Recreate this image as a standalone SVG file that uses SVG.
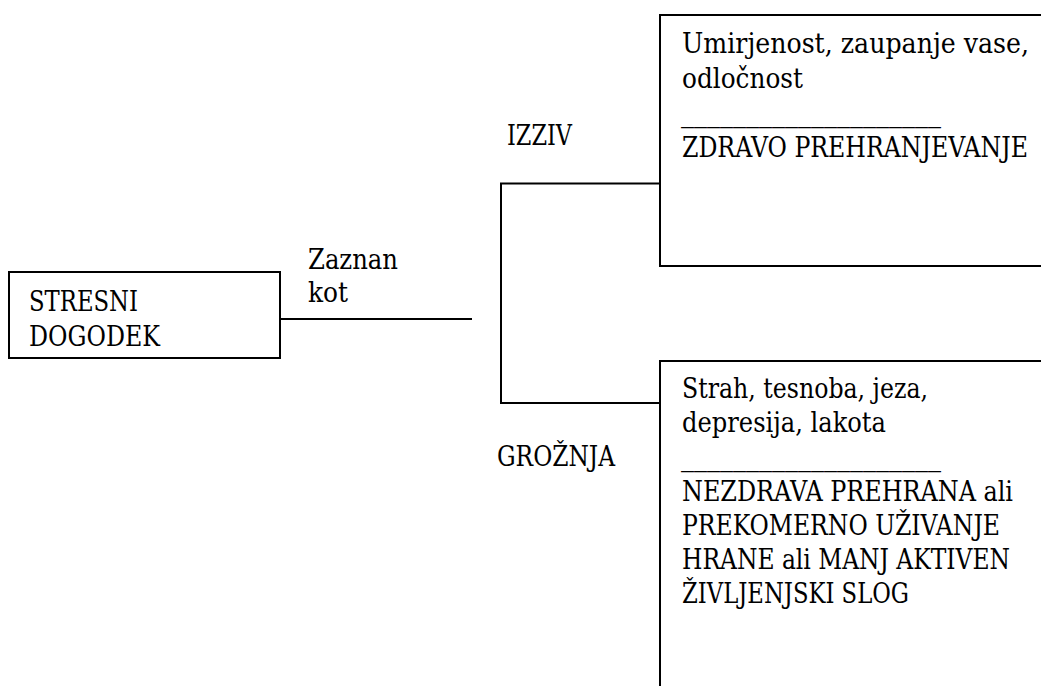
<svg xmlns="http://www.w3.org/2000/svg" width="1041" height="686" viewBox="0 0 1041 686">
  <style>
    .t { font-family: "DejaVu Serif Condensed", "DejaVu Serif", "Liberation Serif", serif; font-stretch: condensed; font-size: 27px; fill: #000; }
    .ln { fill: none; stroke: #000; stroke-width: 2; }
  </style>
  <rect width="1041" height="686" fill="#fff"/>

  <g id="node-stresni-dogodek">
    <rect class="ln" x="9" y="272" width="271" height="86"/>
    <text class="t" x="29" y="311" textLength="109" lengthAdjust="spacingAndGlyphs">STRESNI</text>
    <text class="t" x="29" y="346" textLength="131" lengthAdjust="spacingAndGlyphs">DOGODEK</text>
  </g>

  <g id="connectors">
    <path class="ln" d="M280,319 H472"/>
    <path class="ln" d="M501,183.5 V403 M500,183.5 H660 M500,403 H660"/>
    <text class="t" x="308" y="269" textLength="90" lengthAdjust="spacingAndGlyphs">Zaznan</text>
    <text class="t" x="308" y="302" textLength="40" lengthAdjust="spacingAndGlyphs">kot</text>
    <text class="t" x="507" y="145" textLength="65" lengthAdjust="spacingAndGlyphs">IZZIV</text>
    <text class="t" x="497" y="466" textLength="118" lengthAdjust="spacingAndGlyphs">GROŽNJA</text>
  </g>

  <g id="node-izziv">
    <path class="ln" d="M1041,15 H660 V266 H1041"/>
    <text class="t" x="682" y="53" textLength="347" lengthAdjust="spacingAndGlyphs">Umirjenost, zaupanje vase,</text>
    <text class="t" x="682" y="88" textLength="121" lengthAdjust="spacingAndGlyphs">odločnost</text>
    <text class="t" x="681" y="122" textLength="260" lengthAdjust="spacingAndGlyphs">____________________</text>
    <text class="t" x="682" y="157" textLength="346" lengthAdjust="spacingAndGlyphs">ZDRAVO PREHRANJEVANJE</text>
  </g>

  <g id="node-groznja">
    <path class="ln" d="M1041,361 H660 V686"/>
    <text class="t" x="682" y="398" textLength="246" lengthAdjust="spacingAndGlyphs">Strah, tesnoba, jeza,</text>
    <text class="t" x="682" y="432" textLength="204" lengthAdjust="spacingAndGlyphs">depresija, lakota</text>
    <text class="t" x="681" y="466" textLength="260" lengthAdjust="spacingAndGlyphs">____________________</text>
    <text class="t" x="682" y="501" textLength="331" lengthAdjust="spacingAndGlyphs">NEZDRAVA PREHRANA ali</text>
    <text class="t" x="682" y="535" textLength="318" lengthAdjust="spacingAndGlyphs">PREKOMERNO UŽIVANJE</text>
    <text class="t" x="682" y="569" textLength="328" lengthAdjust="spacingAndGlyphs">HRANE ali MANJ AKTIVEN</text>
    <text class="t" x="682" y="603" textLength="227" lengthAdjust="spacingAndGlyphs">ŽIVLJENJSKI SLOG</text>
  </g>
</svg>
